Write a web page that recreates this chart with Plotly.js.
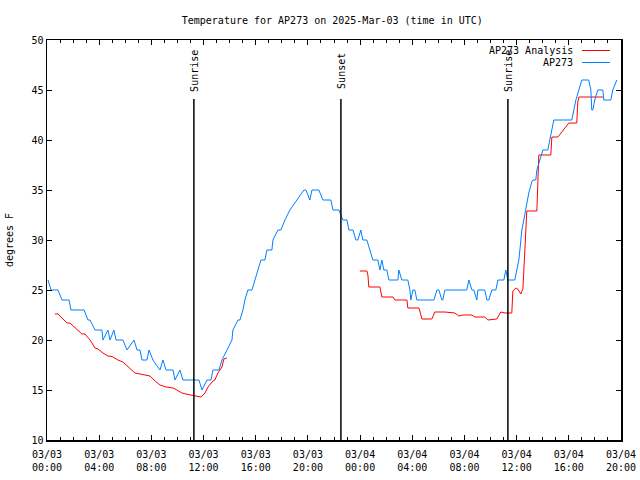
<!DOCTYPE html>
<html>
<head>
<meta charset="utf-8">
<script src="https://cdn.plot.ly/plotly-3.0.1.min.js"></script>
<style>html,body{margin:0;padding:0;background:#fff}#chart{width:640px;height:480px}</style>
</head>
<body>
<div id="chart"></div>
<script>
// Hours since 2025-03-03 00:00 UTC
var obsHours = [0.08,0.31,0.84,1.15,1.69,1.84,2.84,3.14,3.30,3.68,4.21,4.29,4.67,4.83,5.13,5.29,5.82,6.13,6.67,6.90,7.13,7.28,7.66,7.82,8.12,8.66,8.89,9.12,9.66,9.81,10.19,10.42,11.65,11.88,12.26,12.57,12.72,13.18,13.41,13.79,14.18,14.25,14.64,14.79,15.02,15.17,15.40,15.71,15.94,16.17,16.40,16.70,16.86,17.24,17.32,17.70,17.93,18.24,18.62,19.16,19.69,19.85,20.15,20.31,20.84,21.15,21.76,21.92,22.38,22.68,22.99,23.14,23.45,23.68,23.83,24.06,24.21,24.52,24.75,24.98,25.36,25.52,25.67,25.82,26.05,26.21,26.90,26.97,27.20,27.66,27.82,27.89,28.05,28.20,28.35,29.66,29.89,30.04,30.27,30.34,30.50,32.18,32.34,32.57,32.72,32.95,33.03,33.56,33.72,33.87,34.10,34.41,34.56,35.02,35.17,35.33,35.86,36.02,36.17,36.25,36.32,36.40,36.55,36.70,36.86,36.93,37.16,37.24,37.47,37.55,37.78,38.01,38.39,38.54,38.70,38.85,40.23,40.38,40.54,40.77,41.00,41.53,41.69,41.76,41.84,41.99,42.22,42.61,42.68,43.22,43.37,43.68];
var obsTemp = [26,25,25,24,24,23,23,22,22,21,21,20,21,20,21,20,20,19,20,19,19,18,18,19,18,17,18,17,17,16,17,16,16,15,16,16,17,17,18,19,20,21,22,22,23,24,25,25,26,27,28,28,29,29,30,31,31,32,33,34,35,35,34,35,35,34,34,33,33,32,32,31,31,30,30,31,30,30,29,28,28,27,28,27,27,26,26,27,26,26,25,24,25,25,24,24,25,25,24,24,25,25,26,25,25,24,25,25,24,24,25,25,26,26,27,26,26,27,28,29,30,31,32,33,34,34.7,35.8,36,36,37,38,39,39,40,41,42,42,43,44,45,46,46,45,43,43,44,45,45,44,44,45,46];

var anaHours = [0.61,0.84,1.15,1.53,1.76,2.15,2.68,2.91,3.30,3.68,3.91,4.29,4.67,4.98,5.44,5.82,6.21,6.74,7.13,7.59,7.89,8.28,8.66,9.12,9.66,9.96,10.34,10.65,11.11,11.42,11.80,12.11,12.34,12.72,12.87,13.10,13.41,13.56,13.79,
  18.0,
  23.98,24.52,24.60,24.67,25.52,25.67,26.51,26.67,27.59,27.66,28.51,28.74,29.50,29.73,30.50,31.26,31.57,31.88,32.57,32.80,33.56,33.79,34.48,34.79,35.10,35.63,35.71,35.94,36.09,36.32,36.48,36.55,36.70,36.78,37.55,37.62,37.70,38.62,38.70,39.16,40.00,40.61,40.69,40.77,42.61];
var anaTemp = [22.6,22.6,22.2,21.7,21.7,21.2,20.6,20.6,20.0,19.2,19.1,18.7,18.4,18.35,18.0,17.8,17.3,16.7,16.6,16.5,16.4,15.9,15.5,15.3,15.2,15.0,14.7,14.6,14.5,14.4,14.3,14.7,15.3,15.9,16.0,16.7,17.3,18.1,18.2,
  null,
  26.9,26.9,26.5,25.3,25.3,24.3,24.3,24.0,24.0,23.2,23.2,22.1,22.1,22.8,22.8,22.7,22.4,22.5,22.5,22.3,22.3,22.0,22.1,22.8,22.7,22.7,24.9,25.2,25.1,24.6,25.1,27.2,31.8,32.9,32.9,37,38.5,38.5,40.3,40.3,41.7,41.7,43.8,44.3,44.3];

var sunEventHours = [11.26, 22.53, 35.33];
var sunEventLabels = ["Sunrise", "Sunset", "Sunrise"];

var tickHours = [0,4,8,12,16,20,24,28,32,36,40,44];
var tickLabels = ["03/03<br>00:00","03/03<br>04:00","03/03<br>08:00","03/03<br>12:00","03/03<br>16:00","03/03<br>20:00",
                  "03/04<br>00:00","03/04<br>04:00","03/04<br>08:00","03/04<br>12:00","03/04<br>16:00","03/04<br>20:00"];

var seriesNames = ["AP273 Analysis", "AP273"];
var seriesColors = ["#ff0000", "#0080ff"];

function pad(n){return (n<10?"0":"")+n;}
function toDate(h){
  var d = new Date(Date.UTC(2025,2,3) + Math.round(h*3600)*1000);
  return d.getUTCFullYear()+"-"+pad(d.getUTCMonth()+1)+"-"+pad(d.getUTCDate())+" "+pad(d.getUTCHours())+":"+pad(d.getUTCMinutes())+":"+pad(d.getUTCSeconds());
}

var FONT = "DejaVu Sans Mono, Liberation Mono, monospace";

var traces = [
  {x: anaHours.map(toDate), y: anaTemp, type: "scatter", mode: "lines", name: seriesNames[0],
   line: {color: seriesColors[0], width: 1}, connectgaps: false, showlegend: false},
  {x: obsHours.map(toDate), y: obsTemp, type: "scatter", mode: "lines", name: seriesNames[1],
   line: {color: seriesColors[1], width: 1}, showlegend: false}
];

var shapes = [];
var annotations = [];
sunEventHours.forEach(function(h, i){
  shapes.push({type: "line", xref: "x", yref: "paper", x0: toDate(h), x1: toDate(h), y0: 0, y1: 0.8525,
               line: {color: "black", width: 1.5}});
  annotations.push({xref: "x", yref: "paper", x: toDate(h), y: 0.9225, text: sunEventLabels[i],
                    textangle: -90, showarrow: false, xanchor: "center", yanchor: "middle",
                    font: {family: FONT, size: 10, color: "black"}});
});

// Legend (gnuplot style: text right-aligned, sample line at right)
var legendY = [1 - 10.5/400, 1 - 22.5/400];
seriesNames.forEach(function(name, i){
  annotations.push({xref: "paper", yref: "paper", x: (575-47)/574, y: legendY[i], text: name,
                    showarrow: false, xanchor: "right", yanchor: "middle",
                    font: {family: FONT, size: 10, color: "black"}});
  shapes.push({type: "line", xref: "paper", yref: "paper", x0: (582-47)/574, x1: (610-47)/574,
               y0: legendY[i], y1: legendY[i], line: {color: seriesColors[i], width: 1}});
});

var layout = {
  width: 640, height: 480,
  margin: {l: 47, r: 19, t: 40, b: 40},
  paper_bgcolor: "white", plot_bgcolor: "white",
  font: {family: FONT, size: 10, color: "black"},
  title: {text: "Temperature for AP273 on 2025-Mar-03 (time in UTC)", x: 0.497, xref: "paper",
          y: 1 - 20.5/480, yanchor: "middle", font: {family: FONT, size: 10, color: "black"}},
  xaxis: {
    type: "date",
    range: [toDate(0), toDate(44)],
    tickvals: tickHours.map(toDate), ticktext: tickLabels,
    ticks: "inside", ticklen: 5, tickwidth: 1, tickcolor: "black",
    minor: {dtick: 3600000, ticks: "inside", ticklen: 3, tickwidth: 1, tickcolor: "black", showgrid: false},
    showline: true, linecolor: "black", linewidth: 1.5, mirror: "allticks",
    showgrid: false, zeroline: false,
    ticklabelstandoff: 4,
    tickfont: {family: FONT, size: 10, color: "black"},
    fixedrange: true
  },
  yaxis: {
    range: [10, 50], dtick: 5, tick0: 10,
    ticks: "inside", ticklen: 5, tickwidth: 1, tickcolor: "black",
    showline: true, linecolor: "black", linewidth: 1.5, mirror: "allticks",
    showgrid: false, zeroline: false,
    tickfont: {family: FONT, size: 10, color: "black"},
    title: {text: "degrees F", font: {family: FONT, size: 10, color: "black"}, standoff: 16},
    fixedrange: true
  },
  shapes: shapes,
  annotations: annotations,
  showlegend: false
};

Plotly.newPlot("chart", traces, layout, {staticPlot: true, displayModeBar: false});
</script>
</body>
</html>
